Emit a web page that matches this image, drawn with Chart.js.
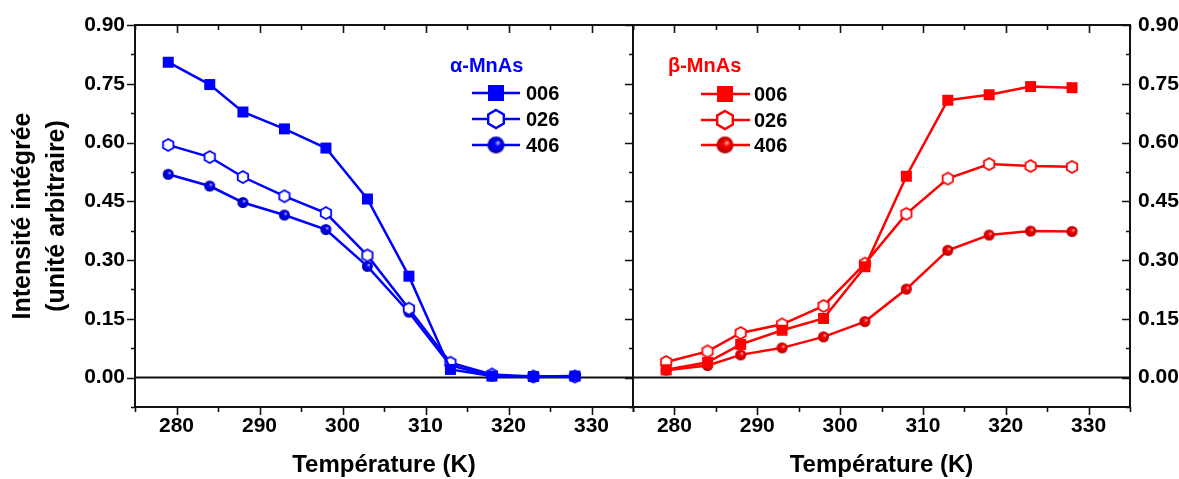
<!DOCTYPE html>
<html><head><meta charset="utf-8">
<script src="https://cdn.jsdelivr.net/npm/chart.js@4/dist/chart.umd.min.js"></script>
<style>
html,body{margin:0;padding:0;background:#fff;}
#wrap{position:relative;width:1179px;height:479px;background:#fff;}
#wrap canvas{position:absolute;left:0;top:0;width:1179px;height:479px;}
</style></head><body>
<div id="wrap"><canvas id="cA" width="1179" height="479"></canvas><canvas id="cB" width="1179" height="479"></canvas></div>
<script>
// ---------- data ----------
const temperatures = [279, 284, 288, 293, 298, 303, 308, 313, 318, 323, 328];
const alpha006 = [0.805, 0.748, 0.678, 0.635, 0.586, 0.456, 0.259, 0.021, 0.004, 0.003, 0.004];
const alpha026 = [0.594, 0.563, 0.512, 0.463, 0.420, 0.312, 0.176, 0.038, 0.008, 0.003, 0.003];
const alpha406 = [0.519, 0.489, 0.447, 0.415, 0.378, 0.284, 0.167, 0.031, 0.004, 0.002, 0.002];
const beta006 = [0.020, 0.039, 0.085, 0.121, 0.151, 0.283, 0.514, 0.708, 0.722, 0.743, 0.740];
const beta026 = [0.040, 0.067, 0.114, 0.136, 0.183, 0.291, 0.418, 0.508, 0.545, 0.540, 0.538];
const beta406 = [0.019, 0.031, 0.058, 0.076, 0.104, 0.143, 0.226, 0.325, 0.364, 0.374, 0.373];
const seriesLabels = ['006', '026', '406'];
const xTicks = [280, 290, 300, 310, 320, 330];
const xMinorTicks = [275, 285, 295, 305, 315, 325, 335];
const yTicks = [0, 0.15, 0.30, 0.45, 0.60, 0.75, 0.90];
const yMinorTicks = [-0.075, 0.075, 0.225, 0.375, 0.525, 0.675, 0.825];
const xTitle = 'Température (K)';
const yTitle = ['Intensité intégrée', '(unité arbitraire)'];
const alphaTitle = 'α-MnAs';
const betaTitle = 'β-MnAs';

// ---------- style ----------
const FONT = "'Liberation Sans', Arial, Helvetica, sans-serif";
Chart.defaults.font.family = FONT;
Chart.defaults.color = '#000';
const BLUE = '#0000ff', RED = '#ff0000';
const AXIS = '#111';

function marker(kind, color, size, light, dark) {
  const pad = 3;
  const dim = Math.ceil(size + pad * 2);
  const c = document.createElement('canvas');
  c.width = dim; c.height = dim;
  const g = c.getContext('2d');
  const cx = dim / 2, cy = dim / 2, r = size / 2;
  if (kind === 'square') {
    g.fillStyle = color;
    g.fillRect(cx - r, cy - r, size, size);
  } else if (kind === 'hex') {
    g.beginPath();
    for (let i = 0; i < 6; i++) {
      const a = -Math.PI / 2 + i * Math.PI / 3;
      const px = cx + r * Math.cos(a), py = cy + r * Math.sin(a);
      if (i) g.lineTo(px, py); else g.moveTo(px, py);
    }
    g.closePath();
    g.fillStyle = '#fff'; g.fill();
    g.lineWidth = size > 14 ? 2.4 : 1.8;
    g.strokeStyle = color; g.stroke();
  } else {
    const grad = g.createRadialGradient(cx + r * 0.3, cy - r * 0.3, 0, cx, cy, r);
    grad.addColorStop(0, light);
    grad.addColorStop(0.35, color);
    grad.addColorStop(1, dark);
    g.beginPath(); g.arc(cx, cy, r, 0, Math.PI * 2);
    g.fillStyle = grad; g.fill();
  }
  return c;
}
function markerSet(color, light, dark, big) {
  return [
    marker('square', color, big ? 16 : 11),
    marker('hex', color, big ? 18 : 12),
    marker('sphere', color, big ? 17 : 11, light, dark)
  ];
}
const blueMarks = markerSet(BLUE, '#d8d8ff', '#0000a8', false);
const blueLegend = markerSet(BLUE, '#d8d8ff', '#0000a8', true);
const redMarks = markerSet(RED, '#ffd8d8', '#b00000', false);
const redLegend = markerSet(RED, '#ffd8d8', '#b00000', true);

function makeDatasets(seriesList, color, marks) {
  return seriesList.map((vals, i) => ({
    label: seriesLabels[i],
    data: temperatures.map((t, k) => ({ x: t, y: vals[k] })),
    borderColor: color,
    backgroundColor: color,
    borderWidth: 2.5,
    pointStyle: marks[i],
    pointRadius: 6,
    tension: 0,
    fill: false
  }));
}

const decoSpecs = {
  cA: {
    ticks: { left: 'out', right: 'in', top: 'in', bottom: 'out' },
    legend: { title: alphaTitle, color: BLUE, titleX: 450, titleY: 66, x1: 472, x2: 520, mx: 496, rows: [93, 119, 145], textX: 526, marks: blueLegend }
  },
  cB: {
    ticks: { left: 'none', right: 'in', top: 'in', bottom: 'out' },
    legend: { title: betaTitle, color: RED, titleX: 668, titleY: 66, x1: 701, x2: 750, mx: 725, rows: [94, 120, 145], textX: 754, marks: redLegend }
  }
};

const decoPlugin = {
  id: 'deco',
  beforeDatasetsDraw(chart) {
    const { ctx, chartArea: a } = chart;
    const y0 = chart.scales.y.getPixelForValue(0);
    ctx.save();
    ctx.strokeStyle = AXIS; ctx.lineWidth = 2;
    ctx.beginPath(); ctx.moveTo(a.left, y0); ctx.lineTo(a.right, y0); ctx.stroke();
    ctx.restore();
  },
  afterDatasetsDraw(chart) {
    const spec = decoSpecs[chart.canvas.id];
    const { ctx, chartArea: a } = chart;
    const xs = chart.scales.x, ys = chart.scales.y;
    ctx.save();
    ctx.strokeStyle = AXIS; ctx.lineWidth = 2;
    ctx.strokeRect(a.left, a.top, a.right - a.left, a.bottom - a.top);
    ctx.lineWidth = 1.6;
    ctx.beginPath();
    const vt = (vals, len) => vals.forEach(v => {
      const px = Math.round(xs.getPixelForValue(v)) + 0.5;
      if (spec.ticks.bottom === 'out') { ctx.moveTo(px, a.bottom); ctx.lineTo(px, a.bottom + len); }
      if (spec.ticks.top === 'in') { ctx.moveTo(px, a.top); ctx.lineTo(px, a.top + len); }
    });
    vt(xTicks, 8); vt(xMinorTicks, 5);
    const ht = (vals, len) => vals.forEach(v => {
      const py = Math.round(ys.getPixelForValue(v)) + 0.5;
      if (spec.ticks.left === 'out') { ctx.moveTo(a.left - len, py); ctx.lineTo(a.left, py); }
      if (spec.ticks.right === 'in') { ctx.moveTo(a.right - len, py); ctx.lineTo(a.right, py); }
      if (spec.ticks.right === 'out') { ctx.moveTo(a.right, py); ctx.lineTo(a.right + len, py); }
    });
    ht(yTicks, 8); ht(yMinorTicks, 4);
    ctx.stroke();

    // legend
    const L = spec.legend;
    ctx.font = 'bold 20px ' + FONT;
    ctx.textBaseline = 'middle';
    ctx.textAlign = 'left';
    ctx.fillStyle = L.color;
    ctx.fillText(L.title, L.titleX, L.titleY);
    chart.data.datasets.forEach((ds, i) => {
      const yy = L.rows[i];
      ctx.strokeStyle = L.color; ctx.lineWidth = 2.5;
      ctx.beginPath(); ctx.moveTo(L.x1, yy); ctx.lineTo(L.x2, yy); ctx.stroke();
      const m = L.marks[i];
      ctx.drawImage(m, L.mx - m.width / 2, yy - m.height / 2);
      ctx.fillStyle = '#000';
      ctx.fillText(ds.label, L.textX, yy + 1);
    });
    ctx.restore();
  }
};

function xScale() {
  return {
    type: 'linear', min: 275, max: 335, position: 'bottom',
    afterBuildTicks: s => { s.ticks = xTicks.map(v => ({ value: v })); },
    afterFit: s => { s.height = 72; },
    ticks: { autoSkip: false, maxRotation: 0, padding: 7, font: { size: 21, weight: 'bold' }, color: '#000', callback: v => String(v) },
    grid: { display: false, drawTicks: false }, border: { display: false },
    title: { display: true, text: xTitle, font: { size: 24, weight: 'bold', lineHeight: 1 }, padding: { top: 0, bottom: 2 }, color: '#000' }
  };
}
function yScale(pos) {
  const s = {
    type: 'linear', min: -0.075, max: 0.9, position: pos,
    afterBuildTicks: sc => { sc.ticks = yTicks.map(v => ({ value: v })); },
    afterFit: sc => { sc.width = pos === 'left' ? 135 : 49; },
    ticks: { autoSkip: false, padding: pos === 'left' ? 10 : 8, font: { size: 21, weight: 'bold' }, color: '#000', callback: v => Number(v).toFixed(2) },
    grid: { display: false, drawTicks: false }, border: { display: false }
  };
  if (pos === 'left') {
    s.title = { display: true, text: yTitle, font: { size: 25, weight: 'bold', lineHeight: 1.36 }, padding: { top: 6, bottom: 0 }, color: '#000' };
  }
  return s;
}

function build(id, datasets, pos, padding) {
  return new Chart(document.getElementById(id), {
    type: 'line',
    data: { datasets },
    options: {
      responsive: false, animation: false, events: [],
      layout: { padding },
      plugins: { legend: { display: false }, tooltip: { enabled: false } },
      scales: { x: xScale(), y: yScale(pos) }
    },
    plugins: [decoPlugin]
  });
}

build('cA', makeDatasets([alpha006, alpha026, alpha406], BLUE, blueMarks), 'left', { left: 0, right: 1179 - 633, top: 25, bottom: 0 });
build('cB', makeDatasets([beta006, beta026, beta406], RED, redMarks), 'right', { left: 633, right: 0, top: 25, bottom: 0 });
</script>
</body></html>
